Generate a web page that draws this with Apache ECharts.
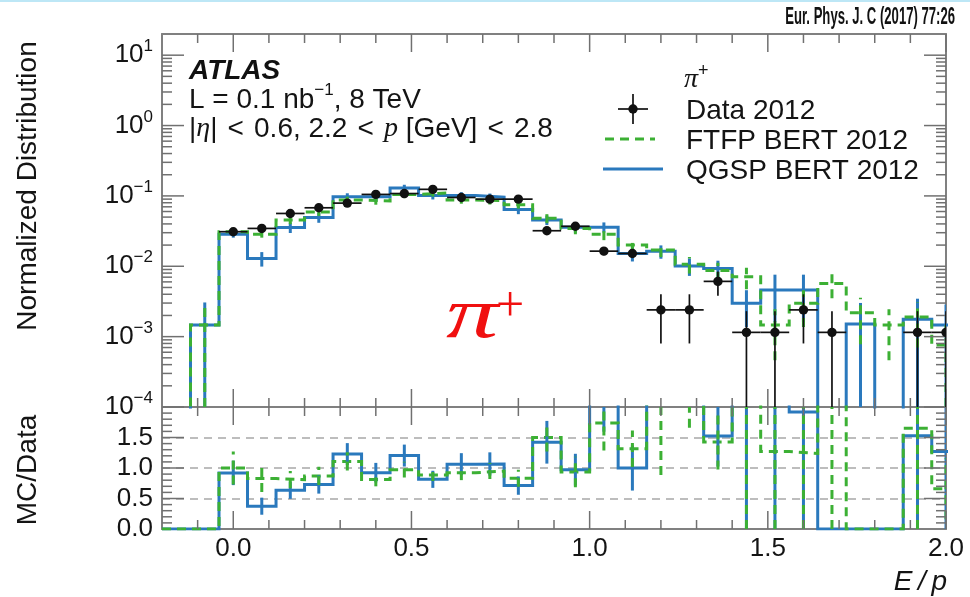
<!DOCTYPE html>
<html>
<head>
<meta charset="utf-8">
<script src="https://cdn.jsdelivr.net/npm/echarts@6/dist/echarts.min.js"></script>
<style>
html,body{margin:0;padding:0;background:#fff;}
#chart{width:970px;height:597px;}
</style>
</head>
<body>
<div id="chart"></div>
<script>
// E/p distribution of isolated pi+ tracks: 2012 data against two Geant4 physics lists,
// with the MC/Data ratio in a lower panel.

const binCenters = [-0.16, -0.08, 0.00, 0.08, 0.16, 0.24, 0.32, 0.40, 0.48, 0.56, 0.64, 0.72, 0.80, 0.88,
                    0.96, 1.04, 1.12, 1.20, 1.28, 1.36, 1.44, 1.52, 1.60, 1.68, 1.76, 1.84, 1.92, 2.00];
const binWidth = 0.08;

const dataValues = [0, 0, 0.031, 0.0345, 0.0563, 0.0678, 0.079, 0.105, 0.108, 0.124, 0.095, 0.090, 0.090, 0.032,
                    0.037, 0.0164, 0.0152, 0.0024, 0.0024, 0.0061, 0.00115, 0.00115, 0.0024, 0.00115, 0, 0, 0.00115, 0.00115];
const dataErrors = [0, 0, 0.0025, 0.003, 0.004, 0.004, 0.0045, 0.005, 0.005, 0.005, 0.005, 0.005, 0.005, 0.003,
                    0.003, 0.002, 0.002, 0.0016, 0.0016, 0.0023, 0.00115, 0.00115, 0.0016, 0.00115, 0, 0, 0.00115, 0.00115];

const ftfpValues = [0, 0.00146, 0.031, 0.0285, 0.0456, 0.059, 0.0875, 0.085, 0.105, 0.110, 0.0875, 0.0855, 0.075, 0.048,
                    0.0345, 0.0285, 0.020, 0.017, 0.0107, 0.0087, 0.0071, 0.00146, 0.00297, 0.0057, 0.00218, 0.00146, 0.0019, 0.00076];
const ftfpErrors = [0, 0.0016, 0.003, 0.003, 0.006, 0.007, 0.010, 0.010, 0.012, 0.012, 0.010, 0.010, 0.009, 0.007,
                    0.006, 0.005, 0.004, 0.0035, 0.0028, 0.0025, 0.0024, 0.001, 0.0016, 0.0022, 0.0014, 0.001, 0.0012, 0.0007];

const qgspValues = [0, 0.00146, 0.0285, 0.0129, 0.0357, 0.0495, 0.097, 0.097, 0.130, 0.101, 0.101, 0.096, 0.064, 0.0455,
                    0.036, 0.036, 0.0152, 0.0163, 0.0101, 0.0093, 0.00297, 0.0046, 0.0046, 0, 0.00151, 0, 0.00176, 0.00146];
const qgspErrors = [0, 0.0016, 0.003, 0.003, 0.006, 0.008, 0.012, 0.012, 0.014, 0.012, 0.012, 0.012, 0.009, 0.007,
                    0.006, 0.006, 0.0035, 0.0035, 0.0028, 0.0027, 0.0016, 0.003, 0.003, 0, 0.0015, 0, 0.0017, 0.0014];

const ftfpRatioErrors = [0, 0, 0.27, 0.22, 0.14, 0.15, 0.15, 0.11, 0.13, 0.10, 0.12, 0.13, 0.14, 0.23,
                         0.25, 0.45, 0.30, 6.2, 2.8, 0.45, 6.2, 1.3, 1.3, 5.0, 0, 0, 1.7, 0.5];
const qgspRatioErrors = [0, 0, 0.20, 0.14, 0.14, 0.15, 0.18, 0.16, 0.18, 0.14, 0.18, 0.19, 0.15, 0.35,
                         0.26, 0.6, 0.37, 3.0, 2.0, 0.5, 2.7, 4.0, 2.0, 0, 0, 0, 1.6, 1.4];

const xTickLabels = ['0.0', '0.5', '1.0', '1.5', '2.0'];
const ratioTickLabels = ['0.0', '0.5', '1.0', '1.5'];

const FONT = '"Liberation Sans", Arial, Helvetica, sans-serif';
const SERIF = '"Liberation Serif", "Times New Roman", serif';
const TXT = '#141414';
const FRAME = '#808080';
const TICK = '#707070';
const BLUE = '#2a79bd';
const GREEN = '#3cb034';
const RED = '#f01010';
const GREEN_DASH = [9, 6];
const FLOOR = 1e-7;   // stand-in for empty bins on the log scale (falls below the axis)

// ---- derived quantities ----
const ratioOf = mc => mc.map((m, i) => dataValues[i] > 0 ? m / dataValues[i] : 0);
const ftfpRatio = ratioOf(ftfpValues);
const qgspRatio = ratioOf(qgspValues);

function stepPoints(values, floor) {
  const pts = [];
  binCenters.forEach((c, i) => {
    const v = values[i] > 0 ? values[i] : floor;
    pts.push([c - binWidth / 2, v], [c + binWidth / 2, v]);
  });
  return pts;
}

function clampY(y, cs) {
  return Math.min(Math.max(y, cs.y), cs.y + cs.height);
}

function histSeries(name, values, color, dash, xi, yi, floor) {
  return {
    type: 'line', name, xAxisIndex: xi, yAxisIndex: yi,
    data: stepPoints(values, floor),
    symbol: 'none', clip: true, silent: true, z: 2,
    lineStyle: { color, width: 3, type: dash || 'solid', cap: 'butt', join: 'miter' }
  };
}

function errorBarSeries(values, errors, color, dash, xi, yi, floor) {
  return {
    type: 'custom', xAxisIndex: xi, yAxisIndex: yi, clip: true, silent: true, z: 3,
    data: binCenters.map((c, i) => [c, values[i], errors[i]]).filter(d => d[1] > 0 && d[2] > 0),
    renderItem(params, api) {
      const cs = params.coordSys;
      const x = api.value(0), v = api.value(1), e = api.value(2);
      const lo = api.coord([x, Math.max(v - e, floor)]);
      const hi = api.coord([x, v + e]);
      return {
        type: 'line',
        shape: { x1: lo[0], y1: clampY(lo[1], cs), x2: lo[0], y2: clampY(hi[1], cs) },
        style: { stroke: color, lineWidth: 3, lineDash: dash || null }
      };
    }
  };
}

const dataSeries = {
  type: 'custom', name: 'Data 2012', xAxisIndex: 0, yAxisIndex: 0, clip: true, silent: true, z: 6,
  data: binCenters.map((c, i) => [c, dataValues[i], dataErrors[i]]).filter(d => d[1] > 0),
  renderItem(params, api) {
    const cs = params.coordSys;
    const x = api.value(0), v = api.value(1), e = api.value(2);
    const p = api.coord([x, v]);
    const l = api.coord([x - binWidth / 2, v]);
    const r = api.coord([x + binWidth / 2, v]);
    const lo = api.coord([x, Math.max(v - e, FLOOR)]);
    const hi = api.coord([x, v + e]);
    const st = { stroke: '#111', lineWidth: 1.7 };
    return {
      type: 'group',
      children: [
        { type: 'line', shape: { x1: l[0], y1: p[1], x2: r[0], y2: p[1] }, style: st },
        { type: 'line', shape: { x1: p[0], y1: clampY(lo[1], cs), x2: p[0], y2: clampY(hi[1], cs) }, style: st },
        { type: 'circle', shape: { cx: p[0], cy: p[1], r: 4.7 }, style: { fill: '#111' } }
      ]
    };
  }
};

// ---- frame tick marks (inside, on all four sides) ----
const xMajorTicks = [0, 0.5, 1.0, 1.5, 2.0];
const xMinorTicks = [];
for (let k = -1; k < 20; k++) if (k % 5 !== 0) xMinorTicks.push(k / 10);
const logMajorTicks = [1e-4, 1e-3, 1e-2, 1e-1, 1, 10];
const logMinorTicks = [];
logMajorTicks.forEach(d => { for (let m = 2; m <= 9; m++) if (m * d < 19.9) logMinorTicks.push(m * d); });
const ratioMajorTicks = [0.5, 1.0, 1.5];
const ratioMinorTicks = [];
for (let k = 1; k < 20; k++) if (k % 5 !== 0) ratioMinorTicks.push(k / 10);

function tickSeries(xi, yi, yMajor, yMinor) {
  return {
    type: 'custom', xAxisIndex: xi, yAxisIndex: yi, silent: true, z: 4, clip: false,
    data: [[0, 1]],
    renderItem(params, api) {
      const cs = params.coordSys;
      const L = cs.x, R = cs.x + cs.width, T = cs.y, B = cs.y + cs.height;
      const kids = [];
      const seg = (x1, y1, x2, y2) => kids.push({
        type: 'line', shape: { x1, y1, x2, y2 }, style: { stroke: TICK, lineWidth: 1.5 }
      });
      xMajorTicks.forEach(v => { const x = api.coord([v, 1])[0]; seg(x, B, x, B - 18); seg(x, T, x, T + 18); });
      xMinorTicks.forEach(v => { const x = api.coord([v, 1])[0]; seg(x, B, x, B - 9); seg(x, T, x, T + 9); });
      yMajor.forEach(v => { const y = api.coord([0, v])[1]; seg(L, y, L + 22, y); seg(R, y, R - 22, y); });
      yMinor.forEach(v => { const y = api.coord([0, v])[1]; seg(L, y, L + 10, y); seg(R, y, R - 10, y); });
      return { type: 'group', children: kids };
    }
  };
}

// ---- axes ----
const frameLine = { show: true, onZero: false, lineStyle: { color: FRAME, width: 2 } };
function xAx(grid, pos, labels) {
  return {
    gridIndex: grid, type: 'value', position: pos, min: -0.2, max: 2.0, interval: 0.1,
    axisLine: frameLine, axisTick: { show: false }, splitLine: { show: false },
    axisLabel: labels ? {
      show: true, margin: 7, fontSize: 26, fontFamily: FONT, color: TXT,
      formatter: v => {
        const k = Math.round(v * 2);
        return (Math.abs(v * 2 - k) < 1e-6 && k >= 0) ? xTickLabels[k] : '';
      }
    } : { show: false }
  };
}

const logLabel = {
  show: true, margin: 9,
  formatter: v => {
    const lg = Math.log10(v), k = Math.round(lg);
    if (Math.abs(lg - k) > 1e-6 || k > 1) return '';
    return '{b|10}{s|' + (k < 0 ? '\u2212' + (-k) : k) + '}';
  },
  rich: {
    b: { fontSize: 26, lineHeight: 34, fontFamily: FONT, color: TXT },
    s: { fontSize: 17, lineHeight: 17, fontFamily: FONT, color: TXT, verticalAlign: 'top' }
  }
};

const option = {
  animation: false,
  backgroundColor: '#ffffff',
  grid: [
    { left: 162, top: 34, width: 784, height: 373 },
    { left: 162, top: 407, width: 784, height: 122 }
  ],
  xAxis: [xAx(0, 'bottom', false), xAx(0, 'top', false), xAx(1, 'bottom', true), xAx(1, 'top', false)],
  yAxis: [
    { gridIndex: 0, type: 'log', logBase: 10, min: 1e-4, max: 20, position: 'left',
      axisLine: frameLine, axisTick: { show: false }, splitLine: { show: false }, axisLabel: logLabel },
    { gridIndex: 0, type: 'log', logBase: 10, min: 1e-4, max: 20, position: 'right',
      axisLine: frameLine, axisTick: { show: false }, splitLine: { show: false }, axisLabel: { show: false } },
    { gridIndex: 1, type: 'value', min: 0, max: 2, interval: 0.5, position: 'left',
      axisLine: frameLine, axisTick: { show: false },
      splitLine: { show: true, lineStyle: { color: '#bdbdbd', width: 2, type: [8, 6] } },
      axisLabel: { show: true, margin: 9, fontSize: 26, fontFamily: FONT, color: TXT,
        formatter: v => { const k = Math.round(v * 2); return k < ratioTickLabels.length ? ratioTickLabels[k] : ''; } } },
    { gridIndex: 1, type: 'value', min: 0, max: 2, interval: 0.5, position: 'right',
      axisLine: frameLine, axisTick: { show: false }, splitLine: { show: false }, axisLabel: { show: false } }
  ],
  series: [
    // main panel
    histSeries('QGSP BERT 2012', qgspValues, BLUE, null, 0, 0, FLOOR),
    errorBarSeries(qgspValues, qgspErrors, BLUE, null, 0, 0, FLOOR),
    histSeries('FTFP BERT 2012', ftfpValues, GREEN, GREEN_DASH, 0, 0, FLOOR),
    errorBarSeries(ftfpValues, ftfpErrors, GREEN, GREEN_DASH, 0, 0, FLOOR),
    dataSeries,
    tickSeries(0, 0, logMajorTicks, logMinorTicks),
    // ratio panel
    histSeries('QGSP BERT 2012 / Data', qgspRatio, BLUE, null, 2, 2, 0),
    errorBarSeries(qgspRatio, qgspRatioErrors, BLUE, null, 2, 2, 0),
    histSeries('FTFP BERT 2012 / Data', ftfpRatio, GREEN, GREEN_DASH, 2, 2, 0),
    errorBarSeries(ftfpRatio, ftfpRatioErrors, GREEN, GREEN_DASH, 2, 2, 0),
    tickSeries(2, 2, ratioMajorTicks, ratioMinorTicks)
  ],
  graphic: [
    { type: 'rect', shape: { x: 0, y: 0, width: 970, height: 2 }, style: { fill: '#bde7f6' }, silent: true },
    { type: 'text', x: 955, y: 18, scaleX: 0.57, silent: true,
      style: { text: 'Eur. Phys. J. C (2017) 77:26', font: 'bold 23px ' + FONT, fill: '#111', align: 'right', verticalAlign: 'middle' } },
    // axis titles
    { type: 'text', x: 28, y: 186, rotation: Math.PI / 2, silent: true,
      style: { text: 'Normalized Distribution', font: '28px ' + FONT, fill: TXT, align: 'center', verticalAlign: 'middle' } },
    { type: 'text', x: 28, y: 470, rotation: Math.PI / 2, silent: true,
      style: { text: 'MC/Data', font: '28px ' + FONT, fill: TXT, align: 'center', verticalAlign: 'middle' } },
    { type: 'text', x: 947, y: 582, silent: true,
      style: { text: 'E\u2009/\u2009p', font: 'italic 28px ' + FONT, fill: TXT, align: 'right', verticalAlign: 'middle' } },
    // ATLAS label block
    { type: 'text', x: 189, y: 71, silent: true,
      style: { text: 'ATLAS', font: 'italic bold 28px ' + FONT, fill: '#111', verticalAlign: 'middle' } },
    { type: 'text', x: 189, y: 100, silent: true,
      style: { text: '{n|L = 0.1 nb}{s|\u22121}{n|, 8 TeV}', verticalAlign: 'middle',
        rich: { n: { fontSize: 28, lineHeight: 36, fontFamily: FONT, fill: TXT },
                s: { fontSize: 17, lineHeight: 17, fontFamily: FONT, fill: TXT, verticalAlign: 'top' } } } },
    { type: 'text', x: 189, y: 129, silent: true,
      style: { text: '{n||}{g|\u03b7}{n|| \u200a<\u200a 0.6, 2.2 \u200a<\u200a }{g|p}{n| [GeV] \u200a<\u200a 2.8}', verticalAlign: 'middle',
        rich: { n: { fontSize: 28, fontFamily: FONT, fill: TXT },
                g: { fontSize: 28, fontStyle: 'italic', fontFamily: SERIF, fill: TXT } } } },
    // legend
    { type: 'text', x: 684, y: 80, silent: true,
      style: { text: '{g|\u03c0}{s|+}', verticalAlign: 'middle',
        rich: { g: { fontSize: 28, lineHeight: 36, fontStyle: 'italic', fontFamily: SERIF, fill: TXT },
                s: { fontSize: 18, lineHeight: 18, fontFamily: FONT, fill: TXT, verticalAlign: 'top' } } } },
    { type: 'line', shape: { x1: 618, y1: 109, x2: 648, y2: 109 }, style: { stroke: '#111', lineWidth: 1.7 }, silent: true },
    { type: 'line', shape: { x1: 633, y1: 94, x2: 633, y2: 124 }, style: { stroke: '#111', lineWidth: 1.7 }, silent: true },
    { type: 'circle', shape: { cx: 633, cy: 109, r: 4.7 }, style: { fill: '#111' }, silent: true },
    { type: 'text', x: 686, y: 111, silent: true,
      style: { text: 'Data 2012', font: '28px ' + FONT, fill: TXT, verticalAlign: 'middle' } },
    { type: 'line', shape: { x1: 605, y1: 139, x2: 655, y2: 139 }, style: { stroke: GREEN, lineWidth: 3, lineDash: GREEN_DASH }, silent: true },
    { type: 'text', x: 686, y: 141, silent: true,
      style: { text: 'FTFP BERT 2012', font: '28px ' + FONT, fill: TXT, verticalAlign: 'middle' } },
    { type: 'line', shape: { x1: 603, y1: 169, x2: 663, y2: 169 }, style: { stroke: BLUE, lineWidth: 3 }, silent: true },
    { type: 'text', x: 686, y: 171.5, silent: true,
      style: { text: 'QGSP BERT 2012', font: '28px ' + FONT, fill: TXT, verticalAlign: 'middle' } },
    // particle tag inside the plot
    { type: 'text', x: 446, y: 318, scaleX: 1.45, silent: true,
      style: { text: '\u03c0', font: 'italic 72px ' + SERIF, fill: RED, verticalAlign: 'middle' } },
    { type: 'text', x: 496, y: 308, silent: true,
      style: { text: '+', font: '50px ' + SERIF, fill: RED, verticalAlign: 'middle' } }
  ]
};

const chart = echarts.init(document.getElementById('chart'), null, { renderer: 'canvas' });
chart.setOption(option);
</script>
</body>
</html>
